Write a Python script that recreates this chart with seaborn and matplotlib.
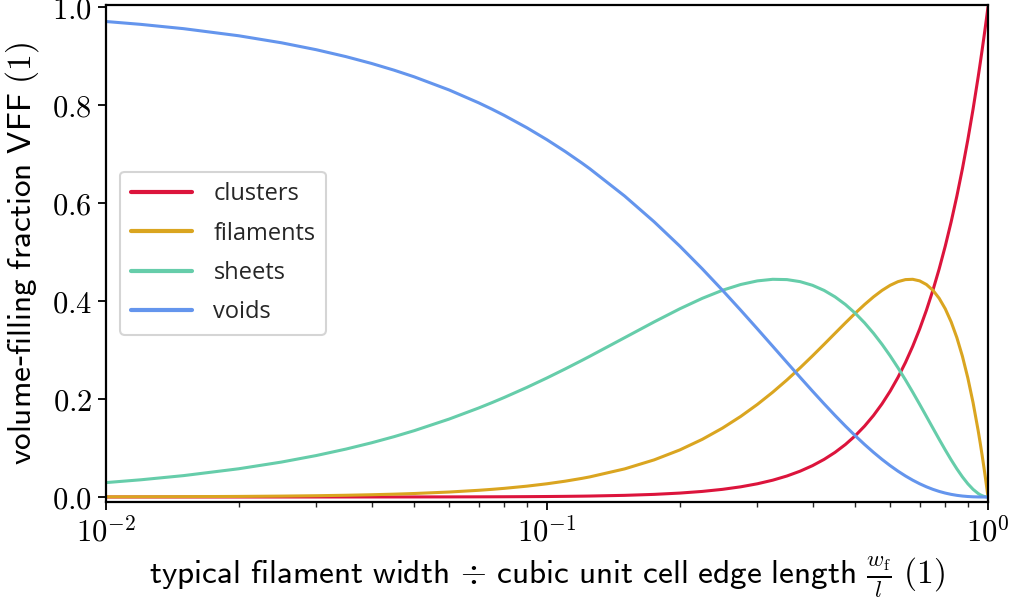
import numpy as np
import pandas as pd
import matplotlib
matplotlib.use("Agg")
import matplotlib.pyplot as plt
import seaborn as sns
from matplotlib.ticker import FuncFormatter, LogLocator, FixedLocator

# ratio w_f / l
ratio = [0.01, 0.012, 0.015, 0.02, 0.025, 0.03, 0.035, 0.04, 0.045, 0.05,
         0.06, 0.07, 0.075, 0.08, 0.09, 0.1, 0.11, 0.12, 0.125, 0.15,
         0.175, 0.2, 0.225, 0.25, 0.275, 0.3, 0.325, 0.35, 0.375, 0.4,
         0.425, 0.45, 0.475, 0.5, 0.525, 0.55, 0.575, 0.6, 0.625, 0.65,
         0.675, 0.7, 0.725, 0.75, 0.775, 0.8, 0.825, 0.85, 0.875, 0.9,
         0.925, 0.95, 0.96, 0.97, 0.98, 0.985, 0.99, 0.995, 1.0]
clusters = [0.000001, 0.0000017, 0.0000034, 0.000008, 0.0000156, 0.000027, 0.0000429, 0.000064, 0.0000911, 0.000125,
            0.000216, 0.000343, 0.000422, 0.000512, 0.000729, 0.001, 0.001331, 0.001728, 0.001953, 0.003375,
            0.005359, 0.008, 0.011391, 0.015625, 0.020797, 0.027, 0.034328, 0.042875, 0.052734, 0.064,
            0.076766, 0.091125, 0.107172, 0.125, 0.144703, 0.166375, 0.190109, 0.216, 0.244141, 0.274625,
            0.307547, 0.343, 0.381078, 0.421875, 0.465484, 0.512, 0.561516, 0.614125, 0.669922, 0.729,
            0.791453, 0.857375, 0.884736, 0.912673, 0.941192, 0.955672, 0.970299, 0.985075, 1.0]
filaments = [0.000297, 0.000427, 0.000665, 0.001176, 0.001828, 0.002619, 0.003546, 0.004608, 0.005802, 0.007125,
             0.010152, 0.013671, 0.015609, 0.017664, 0.022113, 0.027, 0.032307, 0.038016, 0.041016, 0.057375,
             0.075797, 0.096, 0.117703, 0.140625, 0.164484, 0.189, 0.213891, 0.238875, 0.263672, 0.288,
             0.311578, 0.334125, 0.355359, 0.375, 0.392766, 0.408375, 0.421547, 0.432, 0.439453, 0.443625,
             0.444234, 0.441, 0.433641, 0.421875, 0.405422, 0.384, 0.357328, 0.325125, 0.287109, 0.243,
             0.192516, 0.135375, 0.110592, 0.084681, 0.057624, 0.04366, 0.029403, 0.01485, 0.0]
sheets = [0.029403, 0.035141, 0.04366, 0.057624, 0.071297, 0.084681, 0.097779, 0.110592, 0.123123, 0.135375,
          0.159048, 0.181629, 0.192516, 0.203136, 0.223587, 0.243, 0.261393, 0.278784, 0.287109, 0.325125,
          0.357328, 0.384, 0.405422, 0.421875, 0.433641, 0.441, 0.444234, 0.443625, 0.439453, 0.432,
          0.421547, 0.408375, 0.392766, 0.375, 0.355359, 0.334125, 0.311578, 0.288, 0.263672, 0.238875,
          0.213891, 0.189, 0.164484, 0.140625, 0.117703, 0.096, 0.075797, 0.057375, 0.041016, 0.027,
          0.015609, 0.007125, 0.004608, 0.002619, 0.001176, 0.000665, 0.000297, 0.0000746, 0.0]
voids = [0.970299, 0.96443, 0.955672, 0.941192, 0.926859, 0.912673, 0.898632, 0.884736, 0.870984, 0.857375,
         0.830584, 0.804357, 0.791453, 0.778688, 0.753571, 0.729, 0.704969, 0.681472, 0.669922, 0.614125,
         0.561516, 0.512, 0.465484, 0.421875, 0.381078, 0.343, 0.307547, 0.274625, 0.244141, 0.216,
         0.190109, 0.166375, 0.144703, 0.125, 0.107172, 0.091125, 0.076766, 0.064, 0.052734, 0.042875,
         0.034328, 0.027, 0.020797, 0.015625, 0.011391, 0.008, 0.005359, 0.003375, 0.001953, 0.001,
         0.000422, 0.000125, 0.000064, 0.000027, 0.000008, 0.0000034, 0.000001, 0.0, 0.0]

series_names = ["clusters", "filaments", "sheets", "voids"]
colors = ["#DC143C", "#DAA520", "#66CDAA", "#6495ED"]

df = pd.concat([
    pd.DataFrame({"ratio": ratio, "vff": vals, "kind": name})
    for name, vals in zip(series_names, [clusters, filaments, sheets, voids])
], ignore_index=True)

sns.set_theme(style="white")
plt.rcParams["mathtext.fontset"] = "cm"
plt.rcParams["font.family"] = ["DejaVu Sans"]

fig = plt.figure(figsize=(10.19, 6.01), dpi=100)
ax = fig.add_axes([106 / 1019, 1 - 502 / 601, 882 / 1019, 497.5 / 601])

sns.lineplot(data=df, x="ratio", y="vff", hue="kind", hue_order=series_names,
             palette=colors, linewidth=2.2, ax=ax, estimator=None, sort=False)

ax.set_xscale("log")
ax.set_xlim(0.01, 1.0)
ax.set_ylim(-0.0102, 1.005)

for s in ax.spines.values():
    s.set_visible(True)
    s.set_color("black")
    s.set_linewidth(1.6)

ax.yaxis.set_major_locator(FixedLocator([0.0, 0.2, 0.4, 0.6, 0.8, 1.0]))
ax.yaxis.set_major_formatter(FuncFormatter(lambda v, p: f"${v:.1f}$"))
ax.xaxis.set_major_locator(LogLocator(base=10))
ax.xaxis.set_minor_locator(LogLocator(base=10, subs=np.arange(2, 10)))
ax.xaxis.set_major_formatter(FuncFormatter(lambda v, p: f"$10^{{{int(round(np.log10(v)))}}}$"))
ax.tick_params(axis="both", which="major", direction="out", length=6, width=1.3,
               labelsize=22, colors="black", bottom=True, left=True, pad=4)
ax.tick_params(axis="x", which="minor", direction="out", length=3.5, width=1.0,
               bottom=True)

ax.set_xlabel(r"$\mathsf{typical\ filament\ width}\,\div\,\mathsf{cubic\ unit\ cell\ edge\ length\ }\frac{w_\mathrm{f}}{l}\ (1)$",
              fontsize=24, color="black", labelpad=5)
ax.set_ylabel(r"$\mathsf{volume}$-$\mathsf{filling\ fraction\ VFF\ }(1)$",
              fontsize=24, color="black", labelpad=8)

leg = ax.legend(loc="center left", bbox_to_anchor=(0.016, 0.5), borderaxespad=0,
                frameon=True, fancybox=True, framealpha=1.0, edgecolor="#d5d5d5",
                prop={"family": "Open Sans", "size": 17}, handlelength=2.6,
                handletextpad=0.9, labelspacing=0.65, borderpad=0.45)
leg.get_frame().set_linewidth(1.5)
for h in leg.get_lines():
    h.set_linewidth(3.0)

fig.savefig("out.png", dpi=100)
